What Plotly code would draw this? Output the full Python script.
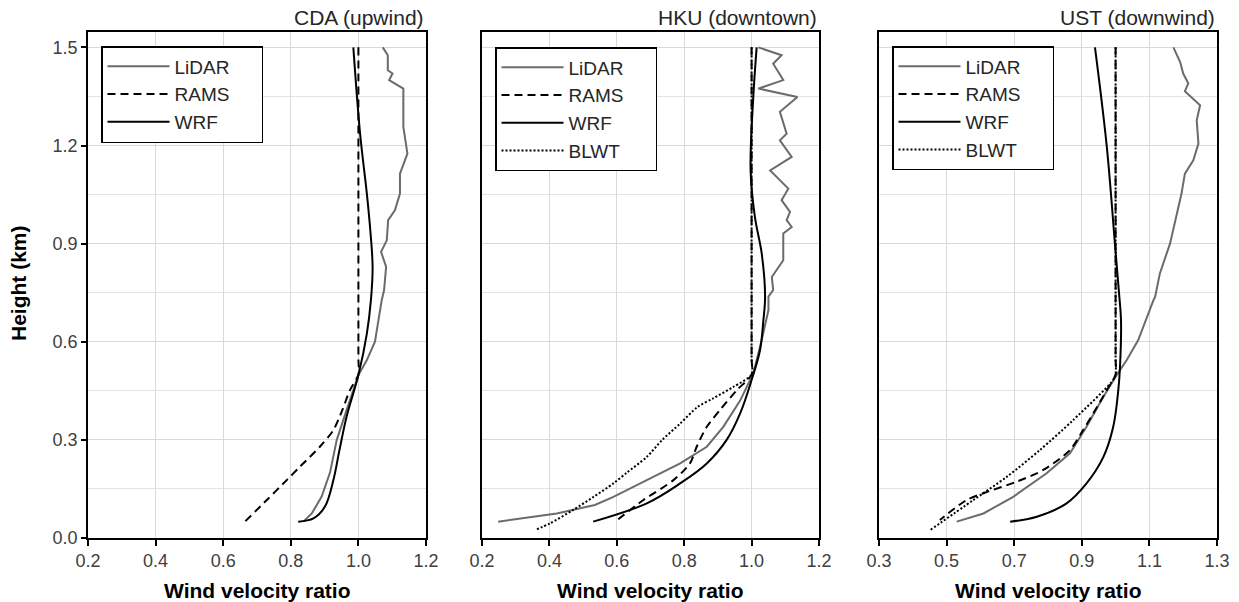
import plotly.graph_objects as go

# ---- Data: wind velocity ratio profiles vs height (km) ----
# CDA (upwind)
cda_lidar_h = [1.5, 1.476, 1.43, 1.42, 1.40, 1.374, 1.257, 1.175, 1.114, 1.053, 1.002, 0.972, 0.91,
               0.875, 0.829, 0.758, 0.727, 0.666, 0.60, 0.544, 0.498, 0.391, 0.30, 0.20, 0.126, 0.075, 0.05]
cda_lidar_v = [1.072, 1.087, 1.087, 1.101, 1.091, 1.133, 1.133, 1.145, 1.123, 1.123, 1.108, 1.088, 1.084,
               1.067, 1.082, 1.076, 1.069, 1.059, 1.049, 1.025, 1.0, 0.965, 0.936, 0.916, 0.891, 0.862, 0.837]
cda_rams_h = [1.5, 0.55, 0.5, 0.452, 0.39, 0.33, 0.279, 0.218, 0.177, 0.116, 0.05]
cda_rams_v = [1.0, 1.0, 1.0, 0.975, 0.952, 0.926, 0.886, 0.827, 0.788, 0.729, 0.664]
cda_wrf_h = [1.5, 1.236, 1.053, 0.931, 0.829, 0.727, 0.625, 0.498, 0.371, 0.269, 0.177, 0.096, 0.06, 0.05]
cda_wrf_v = [0.985, 1.005, 1.025, 1.036, 1.042, 1.037, 1.025, 1.0, 0.965, 0.944, 0.926, 0.901, 0.867, 0.822]

# HKU (downtown)
hku_lidar_h = [1.5, 1.476, 1.45, 1.40, 1.374, 1.348, 1.303, 1.236, 1.216, 1.165, 1.124, 1.068, 1.033,
               0.997, 0.972, 0.951, 0.931, 0.849, 0.798, 0.758, 0.738, 0.697, 0.605, 0.503, 0.42, 0.34,
               0.279, 0.228, 0.177, 0.126, 0.101, 0.075, 0.05]
hku_lidar_v = [1.02, 1.089, 1.064, 1.094, 1.02, 1.136, 1.084, 1.104, 1.084, 1.119, 1.055, 1.109, 1.089,
               1.114, 1.104, 1.119, 1.094, 1.094, 1.06, 1.064, 1.05, 1.05, 1.03, 1.005, 0.966, 0.916,
               0.867, 0.788, 0.689, 0.59, 0.535, 0.422, 0.248]
hku_rams_h = [1.5, 0.55, 0.5, 0.452, 0.391, 0.34, 0.279, 0.228, 0.177, 0.116, 0.05]
hku_rams_v = [1.0, 1.0, 1.0, 0.956, 0.906, 0.867, 0.837, 0.817, 0.768, 0.679, 0.595]
hku_wrf_h = [1.5, 1.348, 1.124, 0.98, 0.87, 0.738, 0.666, 0.574, 0.483, 0.381, 0.30, 0.228, 0.167, 0.106, 0.05]
hku_wrf_v = [1.015, 1.005, 0.997, 1.01, 1.03, 1.04, 1.035, 1.025, 1.0, 0.966, 0.926, 0.867, 0.788, 0.689, 0.53]
hku_blwt_h = [1.5, 0.55, 0.5, 0.462, 0.427, 0.401, 0.35, 0.30, 0.248, 0.2, 0.167, 0.125, 0.086, 0.045, 0.024]
hku_blwt_v = [1.0, 1.0, 1.0, 0.946, 0.886, 0.84, 0.788, 0.735, 0.689, 0.63, 0.59, 0.53, 0.471, 0.402, 0.357]

# UST (downwind)
ust_lidar_h = [1.5, 1.455, 1.42, 1.39, 1.366, 1.323, 1.277, 1.206, 1.155, 1.114, 1.053, 0.992, 0.9,
               0.809, 0.738, 0.727, 0.605, 0.544, 0.498, 0.432, 0.34, 0.259, 0.198, 0.126, 0.075, 0.05]
ust_lidar_v = [1.171, 1.191, 1.2, 1.215, 1.205, 1.25, 1.24, 1.245, 1.23, 1.205, 1.195, 1.181, 1.161,
               1.131, 1.117, 1.112, 1.067, 1.033, 1.003, 0.964, 0.914, 0.865, 0.796, 0.697, 0.609, 0.53]
ust_rams_h = [1.5, 0.55, 0.5, 0.452, 0.381, 0.33, 0.269, 0.208, 0.172, 0.137, 0.116, 0.055]
ust_rams_v = [1.0, 1.0, 1.0, 0.974, 0.934, 0.904, 0.865, 0.786, 0.707, 0.609, 0.559, 0.48]
ust_wrf_h = [1.5, 1.196, 0.9, 0.738, 0.666, 0.523, 0.452, 0.34, 0.248, 0.167, 0.106, 0.065, 0.05]
ust_wrf_v = [0.939, 0.974, 0.998, 1.011, 1.016, 1.013, 1.008, 0.993, 0.964, 0.914, 0.855, 0.767, 0.688]
ust_blwt_h = [1.5, 0.55, 0.5, 0.483, 0.361, 0.269, 0.187, 0.116, 0.024]
ust_blwt_v = [1.0, 1.0, 1.0, 0.993, 0.875, 0.776, 0.678, 0.579, 0.451]

panel_titles = ["CDA (upwind)", "HKU (downtown)", "UST (downwind)"]
x_ranges = [[0.2, 1.2], [0.2, 1.2], [0.3, 1.3]]
y_range = [0, 1.547]

W, H = 1239, 602
FONT = "Liberation Sans, Arial, sans-serif"

# panel placement in pixels -> paper fractions
px_x = [(88, 426), (482, 819), (879, 1217)]
px_top, px_bottom = 32, 538
y_dom = [1 - px_bottom / H, 1 - px_top / H]

styles = {
    "LiDAR": dict(color="#6b6b6b", width=2, dash="solid", shape="linear"),
    "RAMS": dict(color="black", width=2, dash="8px,5px", shape="spline", smoothing=0.8),
    "WRF": dict(color="black", width=2, dash="solid", shape="spline", smoothing=1.0),
    "BLWT": dict(color="black", width=2, dash="2px,2px", shape="spline", smoothing=0.8),
}

panels = [
    [("LiDAR", cda_lidar_v, cda_lidar_h), ("RAMS", cda_rams_v, cda_rams_h), ("WRF", cda_wrf_v, cda_wrf_h)],
    [("LiDAR", hku_lidar_v, hku_lidar_h), ("RAMS", hku_rams_v, hku_rams_h), ("WRF", hku_wrf_v, hku_wrf_h),
     ("BLWT", hku_blwt_v, hku_blwt_h)],
    [("LiDAR", ust_lidar_v, ust_lidar_h), ("RAMS", ust_rams_v, ust_rams_h), ("WRF", ust_wrf_v, ust_wrf_h),
     ("BLWT", ust_blwt_v, ust_blwt_h)],
]

legend_names = ["legend", "legend2", "legend3"]
legend_pos = [(101, 46), (495, 47), (892, 46)]

fig = go.Figure()
pad = "\u00a0" * 5

for i, series in enumerate(panels):
    ax = "" if i == 0 else str(i + 1)
    for name, v, h in series:
        fig.add_trace(go.Scatter(
            x=v, y=h, mode="lines", name=name + pad,
            line=dict(**styles[name]),
            xaxis="x" + ax, yaxis="y" + ax,
            legend=legend_names[i], legendgroup=f"{i}-{name}",
            hoverinfo="skip",
        ))

layout = dict(
    width=W, height=H,
    margin=dict(l=0, r=0, t=0, b=0, autoexpand=False),
    paper_bgcolor="white", plot_bgcolor="white",
    font=dict(family=FONT, size=18, color="#404040"),
    showlegend=True,
)

grid = "#d9d9d9"
for i in range(3):
    ax = "" if i == 0 else str(i + 1)
    x0, x1 = px_x[i]
    layout["xaxis" + ax] = dict(
        domain=[x0 / W, x1 / W], range=x_ranges[i], anchor="y" + ax, automargin=False,
        tick0=x_ranges[i][0], dtick=0.2, tickformat=".1f",
        ticks="outside", ticklen=6, tickwidth=1.5, tickcolor="black",
        showline=True, linecolor="black", linewidth=1.5, mirror=True,
        showgrid=True, gridcolor=grid, gridwidth=1.2, zeroline=False,
        tickfont=dict(size=18, color="#404040"),
    )
    layout["yaxis" + ax] = dict(
        domain=y_dom, range=y_range, anchor="x" + ax, automargin=False,
        tick0=0, dtick=0.3, tickformat=".1f",
        ticks="outside" if i == 0 else "", ticklen=5, tickwidth=1.5, tickcolor="black",
        showticklabels=(i == 0),
        showline=True, linecolor="black", linewidth=1.5, mirror=True,
        showgrid=True, gridcolor=grid, gridwidth=1.2, zeroline=False,
        minor=dict(dtick=0.15, tick0=0, showgrid=True, gridcolor="#e3e3e3", gridwidth=1.2),
        tickfont=dict(size=18, color="#404040"),
    )
    lx, ly = legend_pos[i]
    layout[legend_names[i]] = dict(
        x=lx / W, y=1 - ly / H, xanchor="left", yanchor="top",
        bgcolor="white", bordercolor="black", borderwidth=1.5,
        font=dict(family=FONT, size=19, color="#262626"),
        itemwidth=62, tracegroupgap=0,
    )

annotations = []
for i in range(3):
    x0, x1 = px_x[i]
    annotations.append(dict(
        text=panel_titles[i], xref="paper", yref="paper",
        x=x1 / W, y=1 - 17 / H, xanchor="right", yanchor="middle",
        showarrow=False, font=dict(family=FONT, size=21, color="#262626"),
    ))
    annotations.append(dict(
        text="<b>Wind velocity ratio</b>", xref="paper", yref="paper",
        x=(x0 + x1) / 2 / W, y=1 - 590 / H, xanchor="center", yanchor="middle",
        showarrow=False, font=dict(family=FONT, size=21, color="black"),
    ))
annotations.append(dict(
    text="<b>Height (km)</b>", xref="paper", yref="paper",
    x=18 / W, y=1 - 283 / H, xanchor="center", yanchor="middle", textangle=-90,
    showarrow=False, font=dict(family=FONT, size=21, color="black"),
))
layout["annotations"] = annotations

fig.update_layout(**layout)
fig.write_html("out.html")
